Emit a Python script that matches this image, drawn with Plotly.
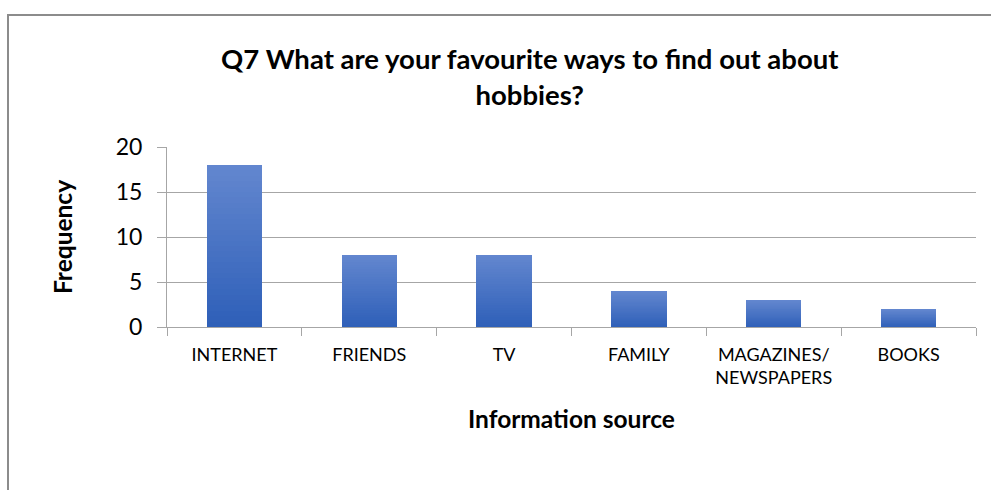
import plotly.graph_objects as go

# Survey results: favourite ways to find out about hobbies
categories = ["INTERNET", "FRIENDS", "TV", "FAMILY", "MAGAZINES/<br>NEWSPAPERS", "BOOKS"]
frequency = [18, 8, 8, 4, 3, 2]
y_ticks = [0, 5, 10, 15, 20]

FONT = "Lato"
GRID = "#a6a6a6"
TOP_RGB = (99, 135, 207)
BOTTOM_RGB = (46, 95, 184)
N_SLICES = 30

fig = go.Figure()

# each bar is split into thin horizontal bands so it shades from dark (bottom) to light (top)
for k in range(N_SLICES):
    t = (k + 0.5) / N_SLICES
    r, g, b = (round(lo + (hi - lo) * t) for lo, hi in zip(BOTTOM_RGB, TOP_RGB))
    fig.add_trace(go.Bar(
        x=categories,
        y=[v / N_SLICES for v in frequency],
        base=[v * k / N_SLICES for v in frequency],
        width=0.41,
        marker=dict(color=f"rgb({r},{g},{b})", line=dict(width=0)),
        showlegend=False,
        hoverinfo="skip",
    ))

# plot-area geometry in pixels (used to place titles in paper units)
L, R, T, B = 167, 15, 147, 163
W = 991 - L - R
H = 490 - T - B


def px(x):
    return (x - L) / W


def py(y):
    return (490 - B - y) / H


fig.update_layout(
    width=991,
    height=490,
    margin=dict(l=L, r=R, t=T, b=B),
    paper_bgcolor="white",
    plot_bgcolor="white",
    barmode="overlay",
    bargap=0,
    font=dict(family=FONT, color="#000000"),
    xaxis=dict(
        showgrid=False,
        showline=True,
        linecolor=GRID,
        linewidth=1,
        ticks="outside",
        tickson="boundaries",
        ticklen=8,
        tickcolor=GRID,
        tickfont=dict(family=FONT, size=18, color="#000000"),
        ticklabelstandoff=11,
        fixedrange=True,
    ),
    yaxis=dict(
        range=[0, 20],
        tickvals=y_ticks,
        showgrid=True,
        gridcolor=GRID,
        gridwidth=1,
        zeroline=False,
        showline=True,
        linecolor=GRID,
        linewidth=1,
        ticks="outside",
        ticklen=9,
        tickcolor=GRID,
        tickfont=dict(family=FONT, size=23, color="#000000"),
        ticklabelstandoff=10,
        fixedrange=True,
    ),
    annotations=[
        dict(
            text="<b>Q7 What are your favourite ways to find out about<br>hobbies?</b>",
            x=px(530), y=py(76), xref="paper", yref="paper",
            xanchor="center", yanchor="middle", showarrow=False,
            font=dict(family=FONT, size=27.5, color="#000000"),
        ),
        dict(
            text="<b>Frequency</b>",
            x=px(62), y=py(237), xref="paper", yref="paper",
            xanchor="center", yanchor="middle", textangle=-90, showarrow=False,
            font=dict(family=FONT, size=24.5, color="#000000"),
        ),
        dict(
            text="<b>Information source</b>",
            x=px(571), y=py(418), xref="paper", yref="paper",
            xanchor="center", yanchor="middle", showarrow=False,
            font=dict(family=FONT, size=24.5, color="#000000"),
        ),
    ],
    shapes=[
        # chart-area frame
        dict(
            type="rect", xref="paper", yref="paper",
            x0=px(8), x1=px(1100), y0=py(15), y1=py(700),
            line=dict(color="#8c8c8c", width=2), fillcolor="rgba(0,0,0,0)",
            layer="below",
        ),
    ],
)

fig.write_html("out.html")
